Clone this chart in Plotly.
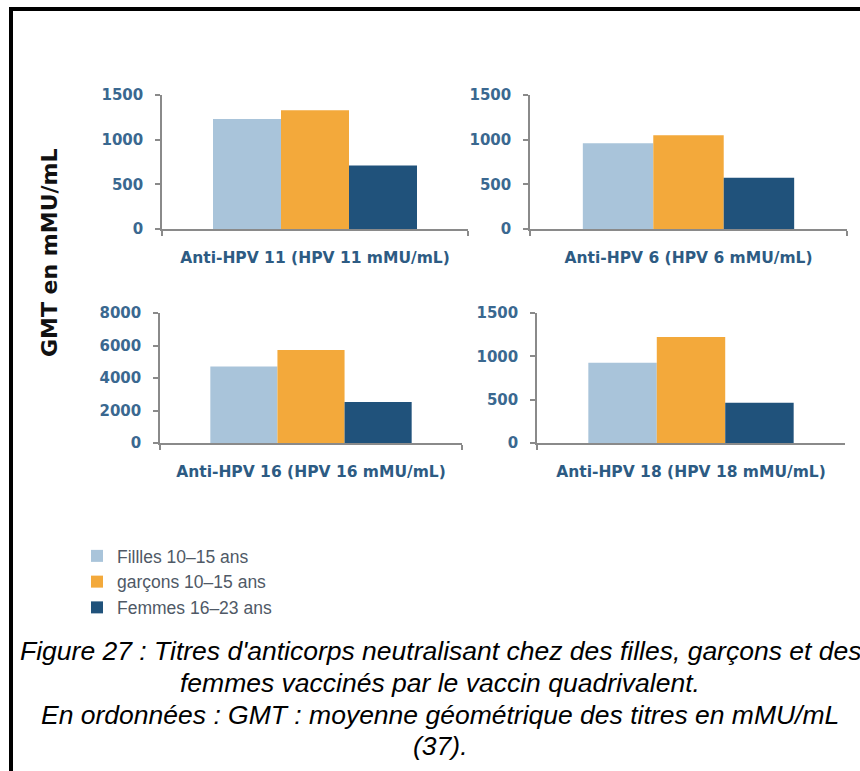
import plotly.graph_objects as go

# ---------------- data ----------------
panels = ["Anti-HPV 11 (HPV 11 mMU/mL)", "Anti-HPV 6 (HPV 6 mMU/mL)",
          "Anti-HPV 16 (HPV 16 mMU/mL)", "Anti-HPV 18 (HPV 18 mMU/mL)"]
groups = ["Fillles 10–15 ans", "garçons 10–15 ans", "Femmes 16–23 ans"]
filles = [1230, 960, 4700, 925]
garcons = [1330, 1050, 5730, 1224]
femmes = [710, 575, 2530, 465]
y_max = [1500, 1500, 8000, 1500]
y_dtick = [500, 500, 2000, 500]
y_title = "GMT en mMU/mL"
caption_lines = [
    "Figure 27 : Titres d'anticorps neutralisant chez des filles, garçons et des",
    "femmes vaccinés par le vaccin quadrivalent.",
    "En ordonnées : GMT : moyenne géométrique des titres en mMU/mL",
    "(37).",
]

# ---------------- style ----------------
W, H = 860, 771
colors = ["#a9c4da", "#f3a93b", "#20527b"]
tick_col = "#3a6890"
cat_col = "#2d5b83"
axis_col = "#8a8a8a"
series = [filles, garcons, femmes]

# panel pixel boxes: (x0, x1, ytop, ybottom)
boxes = [(162, 468, 95, 229), (530, 847, 95, 229),
         (160, 462, 313, 443), (537, 845, 313, 443)]

fig = go.Figure()
layout = {}
for i, (x0, x1, yt, yb) in enumerate(boxes):
    n = "" if i == 0 else str(i + 1)
    for g in range(3):
        fig.add_trace(go.Bar(
            x=[panels[i]], y=[series[g][i]], name=groups[g],
            marker=dict(color=colors[g], line=dict(width=0)),
            legendgroup=groups[g], showlegend=(i == 0),
            xaxis="x" + n, yaxis="y" + n,
        ))
    layout["xaxis" + n] = dict(
        domain=[x0 / W, x1 / W], anchor="y" + n,
        showline=True, linecolor=axis_col, linewidth=1.5,
        ticks="outside", tickson="boundaries", ticklen=5, tickcolor=axis_col,
        tickwidth=1.5, showgrid=False, zeroline=False,
        tickfont=dict(family="DejaVu Sans", size=15.5, color=cat_col, weight="bold"),
        ticklabelstandoff=14, fixedrange=True, automargin=False,
    )
    layout["yaxis" + n] = dict(
        domain=[1 - yb / H, 1 - yt / H], anchor="x" + n,
        range=[0, y_max[i]], dtick=y_dtick[i], tick0=0,
        showline=True, linecolor=axis_col, linewidth=1.5,
        ticks="outside", ticklen=5, tickcolor=axis_col, tickwidth=1.5,
        showgrid=False, zeroline=False,
        tickfont=dict(family="DejaVu Sans", size=15, color=tick_col, weight="bold"),
        ticklabelstandoff=9, fixedrange=True, automargin=False,
    )

annotations = [dict(
    text=y_title, x=50 / W, y=1 - 253 / H, xref="paper", yref="paper",
    showarrow=False, textangle=-90, xanchor="center", yanchor="middle",
    font=dict(family="DejaVu Sans", size=22, color="#111111", weight="bold"),
)]
cap_y = [651, 683, 715, 746]
for line, yy in zip(caption_lines, cap_y):
    annotations.append(dict(
        text=line, x=440 / W, y=1 - yy / H, xref="paper", yref="paper",
        showarrow=False, xanchor="center", yanchor="middle",
        font=dict(family="Liberation Sans", size=26.5, color="#000000", style="italic"),
    ))

fig.update_layout(
    **layout,
    width=W, height=H,
    margin=dict(l=0, r=0, t=0, b=0, pad=0, autoexpand=False),
    paper_bgcolor="#ffffff", plot_bgcolor="#ffffff",
    barmode="group", bargap=1 / 3, bargroupgap=0,
    showlegend=True,
    legend=dict(
        x=77 / W, y=1 - 538 / H, xanchor="left", yanchor="top",
        font=dict(family="Liberation Sans", size=17.5, color="#4f5966"),
        bgcolor="rgba(0,0,0,0)", itemclick=False, itemdoubleclick=False,
        tracegroupgap=0,
    ),
    annotations=annotations,
    shapes=[dict(type="rect", xref="paper", yref="paper",
                 x0=11 / W, x1=1.05, y0=-0.05, y1=1 - 9 / H,
                 line=dict(color="#000000", width=4), layer="below")],
)

fig.write_html("out.html", config={"displayModeBar": False},
               post_script="document.body.style.margin='0';")
